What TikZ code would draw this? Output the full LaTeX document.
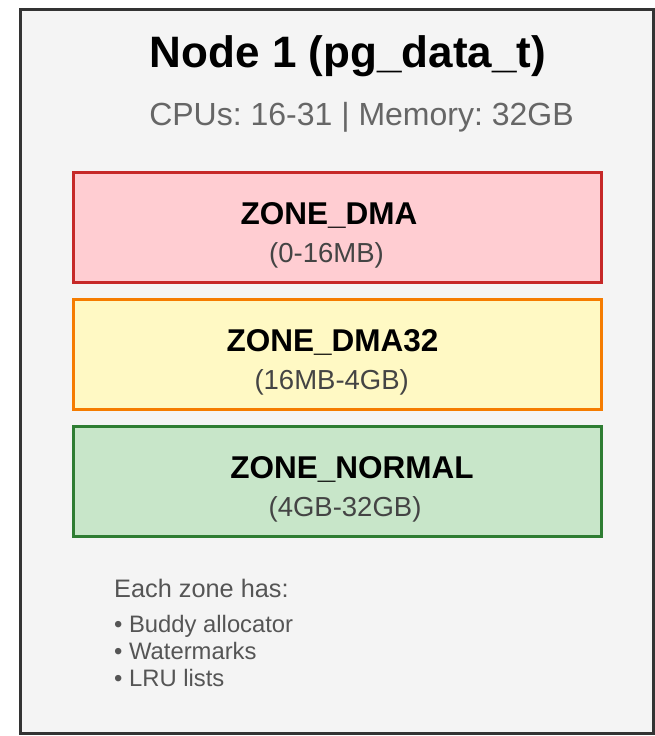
\documentclass[tikz,border=0pt]{standalone}
\usepackage{fontspec}
\setmainfont{Liberation Sans}
\frenchspacing
\definecolor{panelfill}{HTML}{F4F4F4}
\definecolor{panelline}{HTML}{333333}
\definecolor{dmafill}{HTML}{FFCDD2}
\definecolor{dmaline}{HTML}{C62828}
\definecolor{dmaxfill}{HTML}{FFF9C4}
\definecolor{dmaxline}{HTML}{F57C00}
\definecolor{normfill}{HTML}{C8E6C9}
\definecolor{normline}{HTML}{2E7D32}
\definecolor{subgray}{HTML}{666666}
\definecolor{rangegray}{HTML}{444444}
\definecolor{notegray}{HTML}{555555}
\tikzset{
  zonebox/.style={draw, line width=3pt, minimum width=527.7pt, minimum height=110pt, inner sep=0pt},
  zonetitle/.style={anchor=base, inner sep=0pt, font=\fontsize{31.5}{34}\selectfont\bfseries},
  zonerange/.style={anchor=base, inner sep=0pt, text=rangegray, font=\fontsize{27.5}{30}\selectfont},
  note/.style={anchor=base west, inner sep=0pt, text=notegray},
}
\begin{document}
\begin{tikzpicture}[x=1pt, y=-1pt]
  \useasboundingbox (0,0) rectangle (654,736);
  % node panel
  \draw[fill=panelfill, draw=panelline, line width=3pt] (20.7,9.5) rectangle (653,733.5);
  \node[anchor=base, inner sep=0pt, font=\fontsize{44}{48}\selectfont\bfseries] (title) at (348,67) {Node 1 (pg\_data\_t)};
  \node[anchor=base, inner sep=0pt, text=subgray, font=\fontsize{32}{36}\selectfont] (cpus) at (361.5,125) {CPUs: 16-31 | Memory: 32GB};

  % memory zones
  \node[zonebox, fill=dmafill, draw=dmaline] (dma) at (337.65,227) {};
  \node[zonetitle] (dmaname) at (329,224.5) {ZONE\_DMA};
  \node[zonerange] (dmarange) at (326.5,262) {(0-16MB)};

  \node[zonebox, fill=dmaxfill, draw=dmaxline] (dma32) at (337.65,354) {};
  \node[zonetitle] (dma32name) at (332.5,351.5) {ZONE\_DMA32};
  \node[zonerange] (dma32range) at (331.7,389) {(16MB-4GB)};

  \node[zonebox, fill=normfill, draw=normline] (normal) at (337.65,481) {};
  \node[zonetitle] (normalname) at (352,478.5) {ZONE\_NORMAL};
  \node[zonerange] (normalrange) at (345,516) {(4GB-32GB)};

  % per-zone notes
  \node[note, font=\fontsize{25.3}{28}\selectfont] (each) at (114,597) {Each zone has:};
  \node[note, font=\fontsize{23.8}{27}\selectfont] (buddy) at (114,632.5) {• Buddy allocator};
  \node[note, font=\fontsize{23.8}{27}\selectfont] (wmark) at (114,659) {• Watermarks};
  \node[note, font=\fontsize{23.8}{27}\selectfont] (lru) at (114,686.5) {• LRU lists};
\end{tikzpicture}
\end{document}
